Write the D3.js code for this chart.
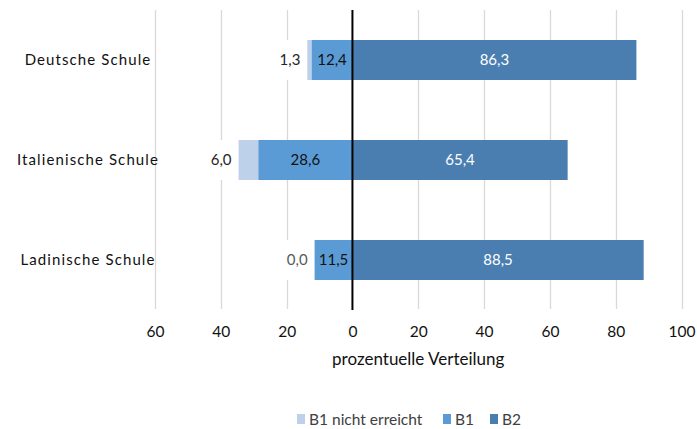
<!DOCTYPE html>
<html><head><meta charset="utf-8">
<script src="https://cdn.jsdelivr.net/npm/d3@7"></script>
<style>
body{margin:0;background:#fff;}
svg{display:block;}
text{font-family:Lato,"Open Sans",sans-serif;}
</style></head>
<body><svg id="c" width="697" height="429"></svg>
<script>
const categories = ["Deutsche Schule", "Italienische Schule", "Ladinische Schule"];
const seriesNames = ["B1 nicht erreicht", "B1", "B2"];
const notReached = [1.3, 6.0, 0.0];
const b1 = [12.4, 28.6, 11.5];
const b2 = [86.3, 65.4, 88.5];
const tickValues = [-60, -40, -20, 0, 20, 40, 60, 80, 100];
const axisTitle = "prozentuelle Verteilung";
const colors = ["#bdd1ea", "#5b9bd5", "#4a7eb0"];

const fmt = v => d3.format(".1f")(v).replace(".", ",");
const svg = d3.select("#c");
const x = d3.scaleLinear().domain([-60, 100]).range([155, 681.5]);
const y = d3.scaleBand().domain(categories).range([10, 310]).paddingInner(0.6).paddingOuter(0.3);

// gridlines
svg.append("g").selectAll("line").data(tickValues.filter(t => t !== 0)).join("line")
  .attr("x1", d => Math.round(x(d)) + 0.5).attr("x2", d => Math.round(x(d)) + 0.5)
  .attr("y1", 10).attr("y2", 309)
  .attr("stroke", "#d9d9d9").attr("stroke-width", 1.3);

// bars
const rows = categories.map((c, i) => ({c, nr: notReached[i], b1: b1[i], b2: b2[i]}));
const g = svg.append("g");
const vfs = 15;
rows.forEach(r => {
  const yy = y(r.c), h = y.bandwidth();
  g.append("rect").attr("x", x(-(r.b1 + r.nr))).attr("width", x(-r.b1) - x(-(r.b1 + r.nr)))
    .attr("y", yy).attr("height", h).attr("fill", colors[0]);
  g.append("rect").attr("x", x(-r.b1)).attr("width", x(0) - x(-r.b1))
    .attr("y", yy).attr("height", h).attr("fill", colors[1]);
  g.append("rect").attr("x", x(0)).attr("width", x(r.b2) - x(0))
    .attr("y", yy).attr("height", h).attr("fill", colors[2]);
  const lx = x(-(r.b1 + r.nr)) - 7;
  const t = g.append("text").attr("x", lx).attr("y", yy + h / 2).attr("dy", "0.36em")
    .attr("text-anchor", "end").attr("font-size", vfs)
    .attr("fill", r.nr === 0 ? "#595959" : "#262626").text(fmt(r.nr));
  const bb = t.node().getBBox();
  g.insert("rect", () => t.node()).attr("x", bb.x - 3).attr("y", yy).attr("width", bb.width + 6)
    .attr("height", h).attr("fill", "#fff");
  g.append("text").attr("x", (x(-r.b1) + x(0)) / 2).attr("y", yy + h / 2).attr("dy", "0.36em")
    .attr("text-anchor", "middle").attr("font-size", vfs).attr("fill", "#111").text(fmt(r.b1));
  g.append("text").attr("x", (x(0) + x(r.b2)) / 2).attr("y", yy + h / 2).attr("dy", "0.36em")
    .attr("text-anchor", "middle").attr("font-size", vfs).attr("fill", "#ffffff").text(fmt(r.b2));
});

// zero line
svg.append("line").attr("x1", x(0)).attr("x2", x(0)).attr("y1", 10).attr("y2", 310)
  .attr("stroke", "#000").attr("stroke-width", 2);

// x axis labels
const ax = d3.axisBottom(x).tickValues(tickValues).tickSize(0).tickPadding(0)
  .tickFormat(d => Math.abs(d));
const axg = svg.append("g").attr("transform", "translate(0,326)").call(ax);
axg.select(".domain").remove();
axg.selectAll("text").attr("font-size", 15.5).attr("fill", "#111").attr("font-family", "Lato,sans-serif");

// category labels
svg.append("g").selectAll("text").data(categories).join("text")
  .attr("x", 88).attr("y", d => y(d) + y.bandwidth() / 2).attr("dy", "0.36em")
  .attr("text-anchor", "middle").attr("font-size", 15).attr("letter-spacing", "1.1px")
  .attr("fill", "#111").text(d => d);

// axis title
svg.append("text").attr("x", (x(-60) + x(100)) / 2).attr("y", 359).attr("dy", "0.36em")
  .attr("text-anchor", "middle").attr("font-size", 17).attr("fill", "#111").text(axisTitle);

// legend
const legX = [297, 443, 490];
const lg = svg.append("g");
seriesNames.forEach((s, i) => {
  lg.append("rect").attr("x", legX[i]).attr("y", 414).attr("width", 8).attr("height", 10).attr("fill", colors[i]);
  lg.append("text").attr("x", legX[i] + 12).attr("y", 419).attr("dy", "0.36em")
    .attr("font-size", 15.5).attr("fill", "#404040").text(s);
});
</script></body></html>
